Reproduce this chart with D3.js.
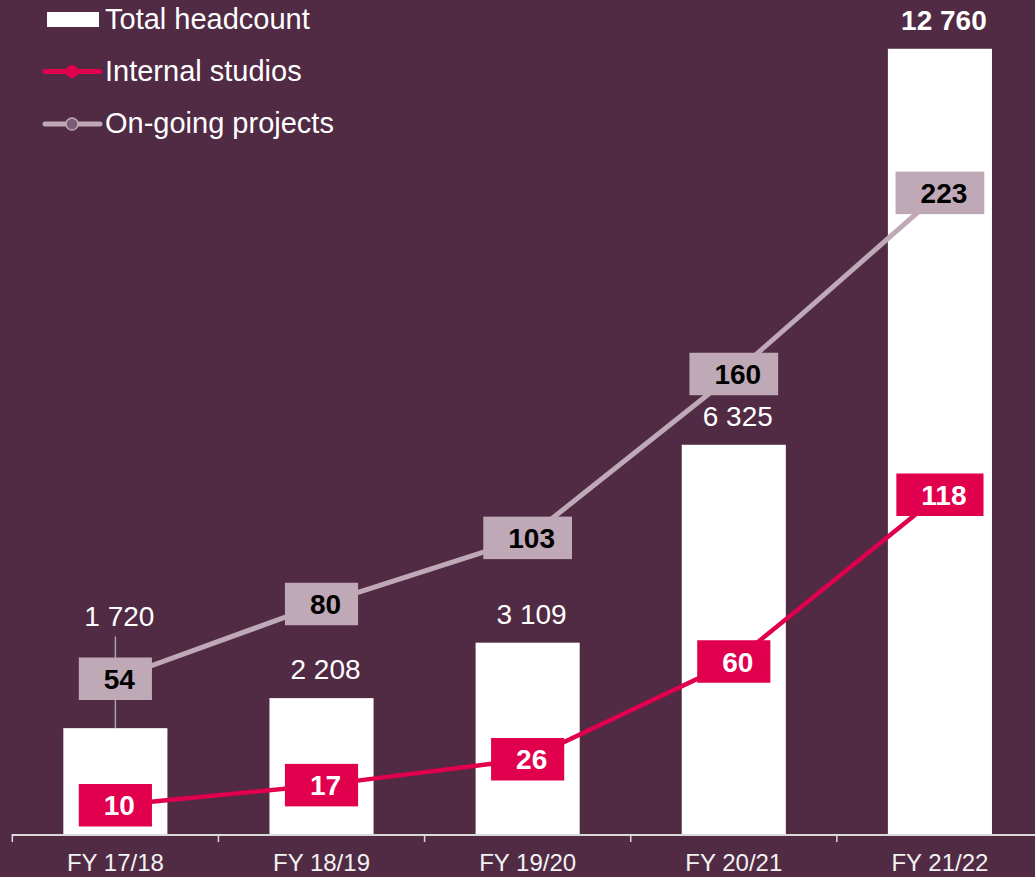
<!DOCTYPE html>
<html>
<head>
<meta charset="utf-8">
<script src="https://cdn.jsdelivr.net/npm/d3@7/dist/d3.min.js"></script>
<style>
  html, body { margin: 0; padding: 0; background: #512a44; }
  svg { display: block; font-family: "Liberation Sans", Arial, sans-serif; }
</style>
</head>
<body>
<svg id="chart" width="1035" height="877"></svg>
<script>
// Fiscal years shown on the x axis
const categories = ["FY 17/18", "FY 18/19", "FY 19/20", "FY 20/21", "FY 21/22"];
// Total headcount (bars)
const headcount = [1720, 2208, 3109, 6325, 12760];
// Number of internal studios (crimson line)
const internalStudios = [10, 17, 26, 60, 118];
// Number of on-going projects (mauve line)
const ongoingProjects = [54, 80, 103, 160, 223];
// Legend entries
const legendLabels = ["Total headcount", "Internal studios", "On-going projects"];

const CRIMSON = "#e0004d";
const MAUVE = "#bfa9b7";
const AXIS = "#d9d9d9";

const svg = d3.select("#chart");
const W = 1035;
const baseY = 834;

const x = d3.scaleBand()
  .domain(categories)
  .range([12.3, 1043])
  .paddingInner(0.495)
  .paddingOuter(0.2475);

// primary axis: headcount
const y = d3.scaleLinear().domain([0, 13000]).range([baseY, 34]);
// secondary axis: studios / projects counts
const y2 = d3.scaleLinear().domain([0, 250]).range([baseY, baseY - 250 * 2.875]);

const fmt = v => d3.format(",")(v).replace(/,/g, " ");
const cx = c => x(c) + x.bandwidth() / 2;

// Bars
svg.append("g").selectAll("rect")
  .data(categories)
  .join("rect")
  .attr("x", d => x(d))
  .attr("y", (d, i) => y(headcount[i]))
  .attr("width", x.bandwidth())
  .attr("height", (d, i) => baseY - y(headcount[i]))
  .attr("fill", "#ffffff");

// Category axis: baseline, boundary ticks and labels
const axisG = svg.append("g");
axisG.append("line")
  .attr("x1", 12.3).attr("x2", W)
  .attr("y1", baseY + 1).attr("y2", baseY + 1)
  .attr("stroke", AXIS).attr("stroke-width", 2);
const bounds = d3.range(categories.length + 1).map(i => 12.3 + i * x.step());
axisG.selectAll("line.tick")
  .data(bounds)
  .join("line")
  .attr("class", "tick")
  .attr("x1", d => d).attr("x2", d => d)
  .attr("y1", baseY).attr("y2", baseY + 8)
  .attr("stroke", AXIS).attr("stroke-width", 1.5);
axisG.selectAll("text")
  .data(categories)
  .join("text")
  .attr("x", d => cx(d))
  .attr("y", 871)
  .attr("text-anchor", "middle")
  .attr("font-size", 24)
  .attr("fill", "#f2f2f2")
  .text(d => d);

// Lines
const lineGen = scale => d3.line()
  .x((v, i) => cx(categories[i]))
  .y(v => scale(v));

const leaderLayer = svg.append("g");

svg.append("path")
  .datum(ongoingProjects)
  .attr("d", lineGen(y2))
  .attr("fill", "none")
  .attr("stroke", MAUVE)
  .attr("stroke-width", 5);

svg.append("path")
  .datum(internalStudios)
  .attr("d", lineGen(y2))
  .attr("fill", "none")
  .attr("stroke", CRIMSON)
  .attr("stroke-width", 4.5);

// Boxed point labels
function boxLabels(values, fill, textColor) {
  const g = svg.append("g");
  const boxes = [];
  values.forEach((v, i) => {
    const px = cx(categories[i]), py = y2(v);
    const grp = g.append("g");
    const rect = grp.append("rect").attr("fill", fill);
    const t = grp.append("text")
      .attr("x", px + 4)
      .attr("y", py)
      .attr("dy", "0.36em")
      .attr("text-anchor", "middle")
      .attr("font-size", 28)
      .attr("font-weight", "bold")
      .attr("fill", textColor)
      .text(v);
    const tw = t.node().getComputedTextLength();
    const bw = tw + 42, bh = 42.5;
    rect.attr("x", px - bw / 2).attr("y", py - bh / 2)
      .attr("width", bw).attr("height", bh);
    boxes.push({ top: py - bh / 2, bottom: py + bh / 2 });
  });
  return boxes;
}

const projectBoxes = boxLabels(ongoingProjects, MAUVE, "#000000");
boxLabels(internalStudios, CRIMSON, "#ffffff");

// Headcount value labels, lifted above a colliding box with a leader line
const labelG = svg.append("g");
headcount.forEach((v, i) => {
  const c = categories[i];
  const top = y(v);
  let base = top - 19;
  const box = projectBoxes[i];
  if (base + 2 > box.top && base - 22 < box.bottom) {
    base = box.top - 32;
    leaderLayer.append("line")
      .attr("x1", cx(c)).attr("x2", cx(c))
      .attr("y1", base + 11).attr("y2", top)
      .attr("stroke", "#a6a6a6").attr("stroke-width", 1.5);
  }
  labelG.append("text")
    .attr("x", cx(c) + 4)
    .attr("y", base)
    .attr("text-anchor", "middle")
    .attr("font-size", 28)
    .attr("font-weight", i === headcount.length - 1 ? "bold" : "normal")
    .attr("fill", "#ffffff")
    .text(fmt(v));
});

// Legend
const lg = svg.append("g");
lg.append("rect")
  .attr("x", 47).attr("y", 12).attr("width", 52).attr("height", 15)
  .attr("fill", "#ffffff");
lg.append("line")
  .attr("x1", 45).attr("x2", 100).attr("y1", 71.5).attr("y2", 71.5)
  .attr("stroke", CRIMSON).attr("stroke-width", 5).attr("stroke-linecap", "round");
lg.append("circle")
  .attr("cx", 72).attr("cy", 71.5).attr("r", 6.5)
  .attr("fill", CRIMSON);
lg.append("line")
  .attr("x1", 45).attr("x2", 100).attr("y1", 124).attr("y2", 124)
  .attr("stroke", MAUVE).attr("stroke-width", 5).attr("stroke-linecap", "round");
lg.append("circle")
  .attr("cx", 72).attr("cy", 124).attr("r", 6)
  .attr("fill", "#7d5a75").attr("stroke", MAUVE).attr("stroke-width", 1.5);
lg.selectAll("text")
  .data(legendLabels)
  .join("text")
  .attr("x", 105)
  .attr("y", (d, i) => [28.5, 80.5, 132.5][i])
  .attr("font-size", 29)
  .attr("fill", "#ffffff")
  .text(d => d);
</script>
</body>
</html>
